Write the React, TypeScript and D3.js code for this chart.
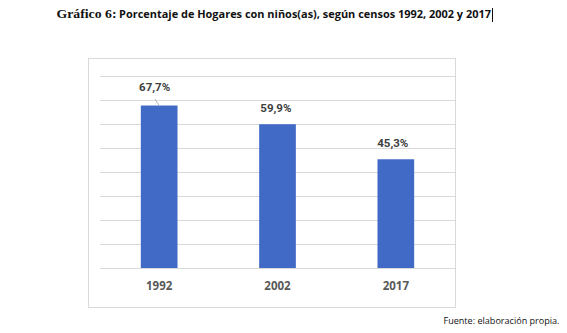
import React from "react";
import * as d3 from "d3";

const categories = ["1992", "2002", "2017"];
const values = [67.7, 59.9, 45.3];
const valueLabels = ["67,7%", "59,9%", "45,3%"];
const yTicks = [0, 10, 20, 30, 40, 50, 60, 70, 80];
const titleSerif = "Gráfico 6:";
const titleSans = "Porcentaje de Hogares con niños(as), según censos 1992, 2002 y 2017";
const source = "Fuente: elaboración propia.";

// label nudges (style only)
const labelDx = [-4.5, -1.6, -3];
const labelDy = [-14.2, -12.5, -12];

export default function App() {
  const W = 567, H = 333;
  const plotL = 100, plotR = 455, plotT = 76, plotB = 268;
  const x = d3.scaleBand<string>().domain(categories).range([plotL, plotR]).paddingInner(0).paddingOuter(0);
  const y = d3.scaleLinear().domain([0, 80]).range([plotB, plotT]);
  const barW = x.bandwidth() * 0.31;
  const blue = "#4169C6";
  const grid = "#D9D9D9";

  return (
    <div style={{ position: "absolute", left: 0, top: 0 }}>
      <svg width={W} height={H} viewBox={`0 0 ${W} ${H}`} style={{ display: "block", background: "#fff" }}>
        {/* title */}
        <text x={56.5} y={18.3} fontFamily="'Liberation Serif', 'Times New Roman', serif" fontWeight="bold" fontSize={12.5} fill="#111" textLength={60} lengthAdjust="spacingAndGlyphs">{titleSerif}</text>
        <text x={119} y={18.3} fontFamily="'Open Sans', sans-serif" fontWeight="bold" fontSize={11} fill="#111" textLength={372} lengthAdjust="spacingAndGlyphs">{titleSans}</text>
        <line x1={492.5} x2={492.5} y1={8} y2={22} stroke="#111" strokeWidth={1} />

        {/* chart frame */}
        <rect x={88.5} y={58.5} width={367} height={249} fill="#fff" stroke={grid} strokeWidth={1} />

        {/* gridlines */}
        {yTicks.map((t) => (
          <line key={t} x1={plotL} x2={plotR} y1={Math.round(y(t)) + 0.5} y2={Math.round(y(t)) + 0.5} stroke={grid} strokeWidth={1} />
        ))}

        {/* bars */}
        {categories.map((c, i) => {
          const cx = (x(c) as number) + x.bandwidth() / 2;
          return (
            <rect key={c} x={cx - barW / 2} y={y(values[i])} width={barW} height={y(0) - y(values[i])} fill={blue} />
          );
        })}

        {/* leader line for first label */}
        {(() => {
          const cx = (x(categories[0]) as number) + x.bandwidth() / 2;
          return <line x1={cx - 4.3} y1={y(values[0]) - 6.5} x2={cx} y2={y(values[0])} stroke="#A6A6A6" strokeWidth={0.8} />;
        })()}

        {/* value labels */}
        {categories.map((c, i) => {
          const cx = (x(c) as number) + x.bandwidth() / 2;
          return (
            <text key={c} x={cx + labelDx[i]} y={y(values[i]) + labelDy[i]} textAnchor="middle" fontFamily="Roboto, 'Liberation Sans', sans-serif" fontWeight="bold" fontSize={11.5} fill="#404040">{valueLabels[i]}</text>
          );
        })}

        {/* category labels */}
        {categories.map((c) => {
          const cx = (x(c) as number) + x.bandwidth() / 2;
          return (
            <text key={c} x={cx} y={290} textAnchor="middle" fontFamily="'Open Sans', sans-serif" fontWeight="bold" fontSize={11.5} fill="#595959">{c}</text>
          );
        })}

        {/* source */}
        <text x={443.5} y={324.3} fontFamily="'Open Sans', sans-serif" fontSize={9.5} fill="#111" textLength={116} lengthAdjust="spacingAndGlyphs">{source}</text>
      </svg>
    </div>
  );
}
